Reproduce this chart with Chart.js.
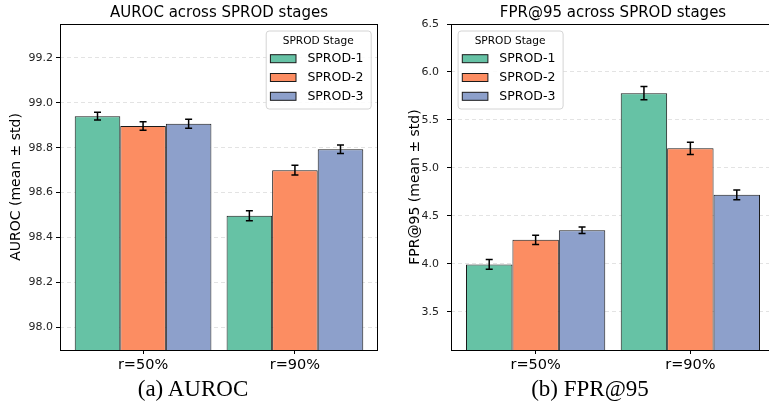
<!DOCTYPE html>
<html>
<head>
<meta charset="utf-8">
<script src="https://cdn.jsdelivr.net/npm/chart.js@4.4.0/dist/chart.umd.min.js"></script>
<style>
body { margin:0; width:769px; height:401px; overflow:hidden; position:relative; background:#fff; }
.panel { position:absolute; top:0; }
.caption { position:absolute; top:376px; font-family:'Liberation Serif', serif; font-size:23px; line-height:26px; text-align:center; color:#000; white-space:nowrap; }
</style>
</head>
<body>
<div class="panel" style="left:0"><canvas id="aurocChart" width="384" height="380"></canvas></div>
<div class="panel" style="left:384px"><canvas id="fprChart" width="400" height="380"></canvas></div>
<div class="caption" style="left:0;width:386px">(a) AUROC</div>
<div class="caption" style="left:480px;width:220px">(b) FPR@95</div>
<script>
// categories
const stages = ['SPROD-1', 'SPROD-2', 'SPROD-3'];
const ratios = ['r=50%', 'r=90%'];
const ratioPos = [0, 1];

// AUROC mean / std per stage (r=50%, r=90%)
const aurocMean1 = [98.940, 98.497];
const aurocMean2 = [98.896, 98.700];
const aurocMean3 = [98.906, 98.793];
const aurocStd1 = [0.017, 0.022];
const aurocStd2 = [0.019, 0.022];
const aurocStd3 = [0.020, 0.019];

// FPR@95 mean / std per stage
const fprMean1 = [3.993, 5.778];
const fprMean2 = [4.249, 5.204];
const fprMean3 = [4.350, 4.718];
const fprStd1 = [0.050, 0.069];
const fprStd2 = [0.048, 0.064];
const fprStd3 = [0.034, 0.052];

// tick labels
const aurocTicks = [98.0, 98.2, 98.4, 98.6, 98.8, 99.0, 99.2];
const fprTicks = [3.5, 4.0, 4.5, 5.0, 5.5, 6.0, 6.5];

const stageColors = ['#66c2a5', '#fc8d62', '#8da0cb'];

Chart.defaults.font.family = "'DejaVu Sans', sans-serif";
Chart.defaults.color = '#000';

// error bars, axes frame, title and legend box (matplotlib look)
const framePlugin = {
    id: 'frame',
    afterDatasetsDraw(chart, args, opts) {
        const ctx = chart.ctx;
        const a = chart.chartArea;
        const y = chart.scales.y;
        ctx.save();

        chart.data.datasets.forEach((ds, d) => {
            const meta = chart.getDatasetMeta(d);
            meta.data.forEach((bar, j) => {
                const v = ds.data[j].y, s = ds.errors[j];
                const top = y.getPixelForValue(v + s);
                const bot = y.getPixelForValue(v - s);
                const x = bar.x;
                ctx.strokeStyle = '#000';
                ctx.lineWidth = 1.5;
                ctx.beginPath();
                ctx.moveTo(x, top); ctx.lineTo(x, bot);
                ctx.moveTo(x - 3.5, top); ctx.lineTo(x + 3.5, top);
                ctx.moveTo(x - 3.5, bot); ctx.lineTo(x + 3.5, bot);
                ctx.stroke();
            });
        });

        ctx.strokeStyle = '#000';
        ctx.lineWidth = 1;
        ctx.strokeRect(a.left + 0.5, a.top + 0.5, a.right - a.left - 1, a.bottom - a.top);

        // title
        ctx.fillStyle = '#000';
        ctx.font = "15px 'DejaVu Sans'";
        ctx.textAlign = 'center';
        ctx.textBaseline = 'middle';
        ctx.fillText(opts.title, (a.left + a.right) / 2, 13);

        // legend
        const w = 105, h = 78;
        const bx = opts.legendSide === 'right' ? a.right - 7.3 - w : a.left + 6.6;
        const by = a.top + 6.5;
        ctx.beginPath();
        ctx.roundRect(bx + 0.5, by + 0.5, w, h, 3);
        ctx.fillStyle = 'rgba(255,255,255,0.85)';
        ctx.fill();
        ctx.strokeStyle = '#d4d4d4';
        ctx.lineWidth = 1;
        ctx.stroke();

        ctx.fillStyle = '#000';
        ctx.font = "10.6px 'DejaVu Sans'";
        ctx.textAlign = 'center';
        ctx.fillText('SPROD Stage', bx + w / 2, by + 11);

        ctx.font = "12.5px 'DejaVu Sans'";
        ctx.textAlign = 'left';
        chart.data.datasets.forEach((ds, k) => {
            const cy = by + 28.2 + k * 18.8;
            ctx.fillStyle = ds.backgroundColor;
            ctx.fillRect(bx + 4.7, cy - 4, 25.6, 8);
            ctx.strokeStyle = '#1a1a1a';
            ctx.strokeRect(bx + 4.7, cy - 4, 25.6, 8);
            ctx.fillStyle = '#000';
            ctx.fillText(ds.label, bx + 41.7, cy + 0.5);
        });
        ctx.restore();
    }
};

function buildChart(id, means, errs, yMin, yMax, yTicks, yTitle, title, lay) {
    const datasets = stages.map((s, k) => ({
        label: s,
        data: ratioPos.map((x, j) => ({ x: x, y: means[k][j] })),
        errors: errs[k],
        backgroundColor: stageColors[k],
        borderColor: '#1a1a1a',
        borderWidth: 1,
        categoryPercentage: 0.9,
        barPercentage: 1.0
    }));

    return new Chart(document.getElementById(id), {
        type: 'bar',
        data: { datasets: datasets },
        options: {
            responsive: false,
            animation: false,
            layout: { padding: { left: 0, right: lay.padRight, top: 24, bottom: 0 } },
            plugins: {
                legend: { display: false },
                tooltip: { enabled: false },
                frame: { title: title, legendSide: lay.legendSide }
            },
            scales: {
                x: {
                    type: 'linear',
                    offset: false,
                    min: -0.547,
                    max: 1.547,
                    afterBuildTicks: s => { s.ticks = ratioPos.map(v => ({ value: v })); },
                    afterFit: s => { s.height = 30; },
                    ticks: { callback: (v, i) => ratios[i], font: { size: 14.5 }, padding: 3, color: '#000' },
                    grid: { offset: false, drawOnChartArea: false, drawTicks: true, tickLength: 4, tickColor: '#000', color: '#000' },
                    border: { display: false }
                },
                y: {
                    min: yMin,
                    max: yMax,
                    afterBuildTicks: s => { s.ticks = yTicks.map(v => ({ value: v })); },
                    afterFit: s => { s.width = lay.axisW; },
                    ticks: { callback: v => v.toFixed(1), font: { size: 11 }, padding: lay.tickPad, color: '#222' },
                    grid: { color: 'rgba(0,0,0,0.11)', tickColor: '#000', tickLength: 4, tickBorderDash: [] },
                    border: { display: false, dash: [4, 3] },
                    title: { display: true, text: yTitle, font: { size: 14 }, padding: { top: lay.titlePad, bottom: 0 } }
                }
            }
        },
        plugins: [framePlugin]
    });
}

buildChart('aurocChart',
    [aurocMean1, aurocMean2, aurocMean3],
    [aurocStd1, aurocStd2, aurocStd3],
    97.9, 99.35, aurocTicks, 'AUROC (mean \u00b1 std)', 'AUROC across SPROD stages',
    { axisW: 60, padRight: 6, tickPad: 3, titlePad: 7.6, legendSide: 'right' });

buildChart('fprChart',
    [fprMean1, fprMean2, fprMean3],
    [fprStd1, fprStd2, fprStd3],
    3.1, 6.5, fprTicks, 'FPR@95 (mean \u00b1 std)', 'FPR@95 across SPROD stages',
    { axisW: 67, padRight: 9, tickPad: 8, titlePad: 22.6, legendSide: 'left' });
</script>
</body>
</html>
